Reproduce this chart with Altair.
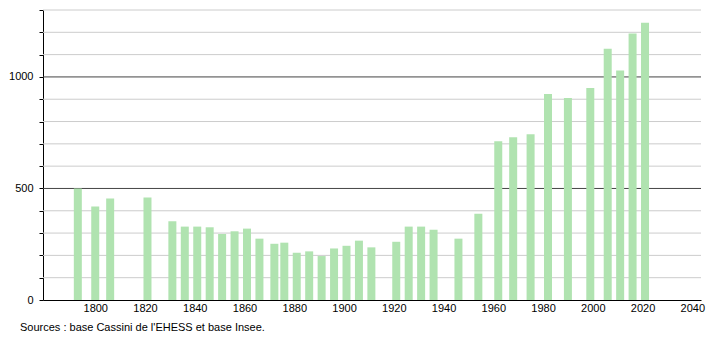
import altair as alt
import pandas as pd

years = [1793, 1800, 1806, 1821, 1831, 1836, 1841, 1846, 1851, 1856, 1861, 1866,
         1872, 1876, 1881, 1886, 1891, 1896, 1901, 1906, 1911, 1921, 1926, 1931,
         1936, 1946, 1954, 1962, 1968, 1975, 1982, 1990, 1999, 2006, 2011, 2016, 2021]
population = [500, 419, 455, 459, 353, 329, 329, 326, 296, 308, 320, 275,
              252, 257, 212, 218, 197, 231, 243, 266, 236, 261, 329, 329,
              315, 275, 387, 712, 730, 743, 923, 905, 950, 1126, 1029, 1195, 1243]
major_lines = [500, 1000]
minor_lines = [100, 200, 300, 400, 600, 700, 800, 900, 1100, 1200, 1300]
x_ticks = list(range(1800, 2041, 20))
y_ticks = list(range(0, 1301, 100))
source_text = "Sources : base Cassini de l'EHESS et base Insee."

df = pd.DataFrame({"year": years, "pop": population})
major_df = pd.DataFrame({"v": major_lines})
minor_df = pd.DataFrame({"v": minor_lines})

xscale = alt.Scale(domain=[1779, 2043.5], nice=False, zero=False, padding=0)
yscale = alt.Scale(domain=[0, 1300], nice=False, padding=0)

yaxis = alt.Axis(values=y_ticks, grid=False, format="d",
                 tickColor="black", tickSize=4, domainColor="black",
                 labelExpr="datum.value % 500 == 0 ? datum.label : ''",
                 labelColor="black", labelFontSize=11,
                 labelFont="Liberation Sans", labelPadding=6, title=None,
                 labelOverlap=False)

minors = alt.Chart(minor_df).mark_rule(color="#cccccc", strokeWidth=1).encode(
    y=alt.Y("v:Q", scale=yscale, axis=yaxis)
)
majors = alt.Chart(major_df).mark_rule(color="#444444", strokeWidth=1).encode(
    y=alt.Y("v:Q", scale=yscale, axis=yaxis)
)

bars = alt.Chart(df).mark_bar(size=8, color="#b0e3b0").encode(
    x=alt.X("year:Q", scale=xscale,
            axis=alt.Axis(values=x_ticks, format="d", ticks=False, grid=False,
                          domainColor="black", labelColor="black", labelFontSize=11,
                          labelFont="Liberation Sans", labelPadding=2, title=None,
                          labelFlush=False, labelOverlap=False)),
    y=alt.Y("pop:Q", scale=yscale, axis=yaxis),
)

chart = alt.layer(minors, majors, bars).properties(
    width=658, height=290,
    autosize=alt.AutoSizeParams(type="none"),
    padding={"left": 43, "top": 10, "right": 9, "bottom": 40},
    title=alt.TitleParams(text=source_text, orient="bottom", anchor="start",
                          frame="group", fontSize=11, fontWeight="normal",
                          font="Liberation Sans", color="black", dx=-23, offset=9),
).configure_view(stroke=None)

chart.save("out.html", embed_options={"renderer": "svg", "actions": False})
